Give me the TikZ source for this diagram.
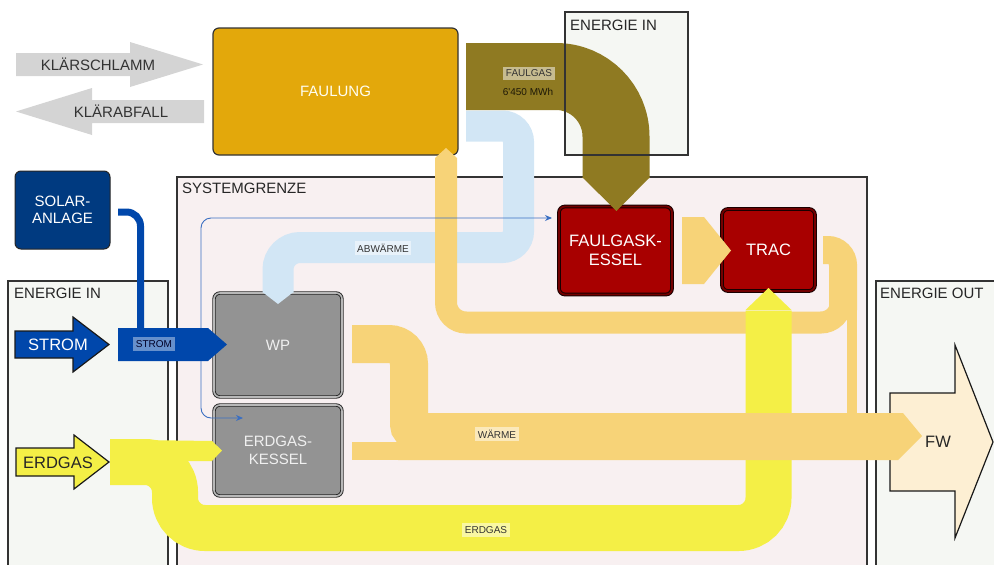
\documentclass[tikz,border=0pt]{standalone}
\usepackage{fontspec}
\setmainfont{Liberation Sans}
\usetikzlibrary{arrows.meta}
\definecolor{warm}{HTML}{F7D378}
\definecolor{yel}{HTML}{F4EF46}
\definecolor{olive}{HTML}{8F7A22}
\definecolor{lblue}{HTML}{D2E6F5}
\definecolor{sblue}{HTML}{0047AB}
\definecolor{tblue}{HTML}{3B6FC2}
\definecolor{zonefill}{HTML}{F5F7F3}
\definecolor{sysfill}{HTML}{F8F0F1}
\definecolor{lineclr}{HTML}{333333}
\definecolor{boxgray}{HTML}{939393}
\definecolor{redbox}{HTML}{A80000}
\definecolor{faulclr}{HTML}{E3A80B}
\definecolor{solarclr}{HTML}{003A80}
\definecolor{greyarrow}{HTML}{D4D4D4}
\definecolor{fwfill}{HTML}{FDEFD3}
\begin{document}
\begin{tikzpicture}[x=1pt,y=-1pt,
  zone/.style={draw=lineclr, line width=1.1pt},
  zonelbl/.style={anchor=west, inner sep=0pt, text=black!85, font=\fontsize{15}{18}\selectfont},
  graybox/.style={rectangle, rounded corners=6pt, fill=boxgray, draw=black!85, line width=0.9pt, double=black!28, double distance=1.6pt, text=white!94!black, align=center, font=\fontsize{15}{17.5}\selectfont},
  rbox/.style={rectangle, rounded corners=6pt, fill=redbox, draw=black!90!red, line width=1pt, double=red!45!black, double distance=1.8pt, text=white, align=center, font=\fontsize{16.5}{19}\selectfont},
  flowlbl/.style={fill=white, fill opacity=0.5, text opacity=1, text=black!80, inner xsep=2.5pt, inner ysep=3pt, font=\fontsize{10}{12}\selectfont},
  inarrow/.style={draw=black!90, line width=1.2pt, line join=miter},
  thinline/.style={draw=tblue, line width=0.9pt, rounded corners=10pt, -{Stealth[length=7pt,width=6pt]}}
]
\useasboundingbox (0,0) rectangle (994,565);

% zones
\fill[zonefill] (565,12) rectangle (688,155);
\draw[zone, fill=zonefill] (8,281) rectangle (168,580);
\draw[zone, fill=sysfill] (177,177) rectangle (867,580);
\draw[zone, fill=zonefill] (876,281) rectangle (1010,580);
\node[zonelbl] (lblein2) at (14,293) {ENERGIE IN};
\node[zonelbl] (lblsys) at (182,188) {SYSTEMGRENZE};
\node[zonelbl] (lbleout) at (880,293) {ENERGIE OUT};

% grey arrows
\fill[greyarrow] (16,53) -- (130,53) -- (130,42) -- (203,64.5) -- (130,87) -- (130,76) -- (16,76) -- cycle;
\node[text=black!80, font=\fontsize{15}{18}\selectfont, inner sep=0pt] (kschl) at (98,64.5) {KLÄRSCHLAMM};
\fill[greyarrow] (204,100) -- (92,100) -- (92,88) -- (16,111.5) -- (92,135) -- (92,123) -- (204,123) -- cycle;
\node[text=black!80, font=\fontsize{15}{18}\selectfont, inner sep=0pt] (kabf) at (121,111.5) {KLÄRABFALL};

% input / output arrows
\draw[inarrow, fill=sblue] (15,331) -- (73,331) -- (73,317) -- (109,344.5) -- (73,372) -- (73,358) -- (15,358) -- cycle;
\node[text=white, font=\fontsize{16.5}{19}\selectfont, inner sep=0pt] (strin) at (58,345) {STROM};
\draw[inarrow, fill=yel] (16,448) -- (74,448) -- (74,435) -- (109,462) -- (74,489) -- (74,476) -- (16,476) -- cycle;
\node[text=black!85, font=\fontsize{16.5}{19}\selectfont, inner sep=0pt] (gasin) at (58,463) {ERDGAS};
\draw[inarrow, fill=fwfill] (890,393) -- (955,393) -- (955,345) -- (993,442) -- (955,538) -- (955,491) -- (890,491) -- cycle;

% boxes
\node[rectangle, rounded corners=6pt, fill=faulclr, draw=lineclr, line width=1.2pt, minimum width=245pt, minimum height=127pt, text=white!95!yellow, font=\fontsize{15}{18}\selectfont] (faul) at (335.5,91.5) {FAULUNG};
\node[rectangle, rounded corners=6pt, fill=solarclr, draw=black!85, line width=1pt, minimum width=95pt, minimum height=78pt, text=white, align=center, font=\fontsize{15}{17}\selectfont] (solar) at (62.5,210) {SOLAR-\\ANLAGE};
\node[graybox, minimum width=128pt, minimum height=104pt] (wp) at (278,345) {WP};
\node[graybox, minimum width=128pt, minimum height=91pt] (ek) at (278,450.5) {ERDGAS-\\KESSEL};
\node[rbox, minimum width=113pt, minimum height=88pt] (fk) at (615.5,250.5) {FAULGASK-\\ESSEL};
\node[rbox, minimum width=93pt, minimum height=82pt] (trac) at (768.5,250) {TRAC};

% Abwaerme
\draw[lblue, line width=31pt] (466,126) [rounded corners=16pt] -- (518.5,126) -- (518.5,247.5) [rounded corners=22pt] -- (278,247.5) -- (278,292.5);
\fill[lblue] (262.5,292) -- (278,304) -- (293.5,292) -- cycle;

% Faulgas
\draw[olive, line width=67pt] (466,76.5) [rounded corners=60pt] -- (616,76.5) -- (616,178);
\fill[olive] (582,177) -- (616.5,211) -- (650,177) -- cycle;
\draw[zone] (565,12) rectangle (688,155);
\node[zonelbl] (lblein1) at (570,25) {ENERGIE IN};

% warm loop TRAC -> FAULUNG
\draw[warm, line width=22pt] (446,158) [rounded corners=20pt] -- (446,322.5) -- (841,322.5) -- (841,285);
\fill[warm] (435,158) -- (446,148) -- (457,158) -- cycle;
\draw[warm, line width=28pt] (823,250) [rounded corners=15pt] -- (843,250) -- (843,310);
\fill[warm] (847,300) rectangle (857,416);
% FK -> TRAC
\fill[warm] (682,217) -- (704,217) -- (731,250.5) -- (704,284) -- (682,284) -- cycle;

% Erdgas
\draw[yel, line width=46pt] (110,462) [rounded corners=30pt] -- (175,462) -- (175,528) -- (768.5,528) -- (768.5,310.5);
\fill[yel] (745.5,310) -- (768.5,288) -- (791.5,310) -- cycle;
\fill[yel] (140,440) -- (212,441) -- (222,450.5) -- (212,461) -- (140,461) -- cycle;

% Waerme
\draw[warm, line width=38pt] (352,344) [rounded corners=20pt] -- (409,344) [rounded corners=8pt] -- (409,432) -- (440,432);
\fill[warm] (398,413) -- (903,413) -- (922,436) -- (898,460) -- (398,460) -- cycle;
\fill[warm] (352,442) rectangle (410,460);

% Strom
\draw[sblue, line width=7pt, rounded corners=14pt] (118,212) -- (140.5,212) -- (140.5,330);
\fill[sblue] (118,328) -- (208,328) -- (227,344.5) -- (208,361) -- (118,361) -- cycle;

% thin electricity lines
\draw[thinline] (201,328) -- (201,218) -- (552,218);
\draw[thinline] (201,361) -- (201,418) -- (243,418);

% labels
\node[text=black!85, font=\fontsize{16.5}{19}\selectfont, inner sep=0pt] (fw) at (938,442) {FW};
\node[flowlbl] (lfg) at (529,73.5) {FAULGAS};
\node[text=black!80!olive, font=\fontsize{10}{12}\selectfont, inner sep=0pt] (lmwh) at (528,92) {6\textquotesingle 450 MWh};
\node[flowlbl] (labw) at (383,248) {ABWÄRME};
\node[flowlbl, fill=white, fill opacity=0.4, text=black!85!blue] (lstr) at (154,344) {STROM};
\node[flowlbl] (lwar) at (497,434) {WÄRME};
\node[flowlbl] (lgas) at (486,530) {ERDGAS};
\end{tikzpicture}
\end{document}
